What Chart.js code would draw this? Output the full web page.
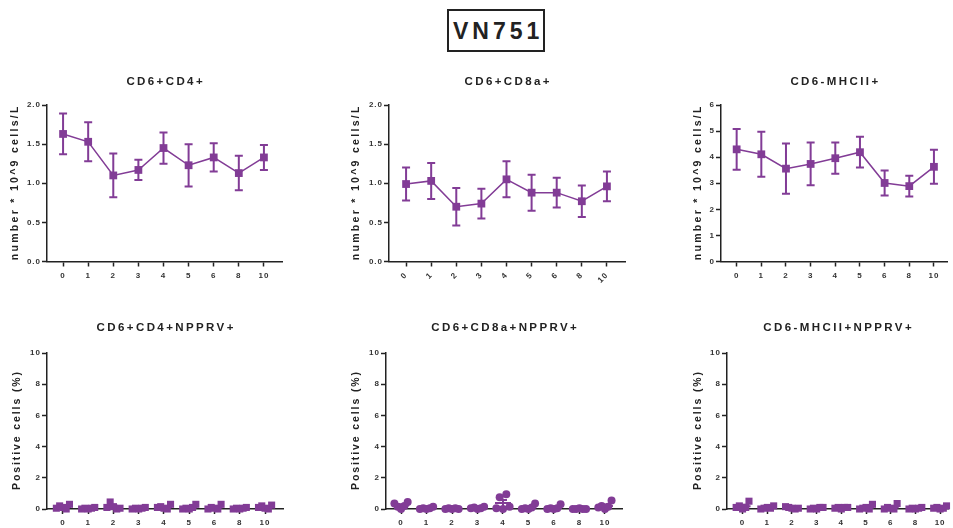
<!DOCTYPE html>
<html>
<head>
<meta charset="utf-8">
<title>VN751</title>
<script src="https://cdn.jsdelivr.net/npm/chart.js@4"></script>
<style>
  body { margin: 0; background: #fff; width: 953px; height: 528px; position: relative; overflow: hidden; }
  #main {
    position: absolute; left: 447px; top: 9px; width: 94px; height: 39px;
    border: 2px solid #222; color: #222; text-align: center;
    font: bold 23px "Liberation Sans", Arial, sans-serif; line-height: 40px; letter-spacing: 4px;
    text-indent: 4px;
  }
  canvas { position: absolute; }
</style>
</head>
<body>
<div id="main">VN751</div>

<script>
// days post infection (x categories)
const days = ['0', '1', '2', '3', '4', '5', '6', '8', '10'];

// top row: mean and error per day
const cd4Mean = [1.63, 1.53, 1.10, 1.17, 1.45, 1.23, 1.33, 1.13, 1.33];
const cd4Err  = [0.26, 0.25, 0.28, 0.13, 0.20, 0.27, 0.18, 0.22, 0.16];
const cd8Mean = [0.99, 1.03, 0.70, 0.74, 1.05, 0.88, 0.88, 0.77, 0.96];
const cd8Err  = [0.21, 0.23, 0.24, 0.19, 0.23, 0.23, 0.19, 0.20, 0.19];
const mhcMean = [4.30, 4.11, 3.56, 3.74, 3.96, 4.19, 3.01, 2.89, 3.63];
const mhcErr  = [0.78, 0.86, 0.96, 0.82, 0.60, 0.59, 0.48, 0.40, 0.65];

// bottom row: individual animals (% positive) per day
const cd4Npprv = [
  [0.05, 0.20, 0.10, 0.00, 0.30], [0.00, 0.05, 0.00, 0.05, 0.10], [0.10, 0.45, 0.15, 0.00, 0.05],
  [0.00, 0.05, 0.00, 0.05, 0.10], [0.10, 0.15, 0.05, 0.00, 0.30], [0.00, 0.05, 0.00, 0.10, 0.30],
  [0.00, 0.10, 0.05, 0.00, 0.30], [0.00, 0.05, 0.00, 0.05, 0.10], [0.10, 0.20, 0.05, 0.00, 0.25]
];
const cd8Npprv = [
  [0.35, 0.15, 0.00, 0.20, 0.45], [0.00, 0.05, 0.00, 0.05, 0.15], [0.00, 0.05, 0.00, 0.05, 0.00],
  [0.05, 0.10, 0.00, 0.05, 0.15], [0.05, 0.75, 0.00, 0.95, 0.15], [0.00, 0.05, 0.00, 0.10, 0.35],
  [0.00, 0.05, 0.00, 0.05, 0.30], [0.00, 0.00, 0.05, 0.00, 0.00], [0.10, 0.20, 0.00, 0.15, 0.55]
];
const mhcNpprv = [
  [0.10, 0.20, 0.00, 0.10, 0.50], [0.00, 0.05, 0.10, 0.05, 0.20], [0.15, 0.10, 0.05, 0.00, 0.05],
  [0.00, 0.05, 0.00, 0.10, 0.10], [0.05, 0.10, 0.00, 0.10, 0.10], [0.00, 0.05, 0.10, 0.00, 0.30],
  [0.00, 0.10, 0.05, 0.00, 0.35], [0.00, 0.05, 0.00, 0.05, 0.10], [0.05, 0.10, 0.00, 0.05, 0.20]
];

const purple = '#823c96';
const ink = '#222';
const FONT = '"Liberation Sans", Arial, sans-serif';

// error bars under the markers (top row)
function errorBars(mean, err) {
  return {
    id: 'errorBars',
    beforeDatasetsDraw(chart) {
      const { ctx, scales: { x, y } } = chart;
      ctx.save();
      ctx.strokeStyle = purple;
      ctx.lineWidth = 2;
      mean.forEach((m, i) => {
        const px = x.getPixelForValue(i);
        const top = y.getPixelForValue(m + err[i]);
        const bot = y.getPixelForValue(m - err[i]);
        ctx.beginPath();
        ctx.moveTo(px, top); ctx.lineTo(px, bot);
        ctx.moveTo(px - 4, top); ctx.lineTo(px + 4, top);
        ctx.moveTo(px - 4, bot); ctx.lineTo(px + 4, bot);
        ctx.stroke();
      });
      ctx.restore();
    }
  };
}

// mean line + SEM over the dots (bottom row)
function meanSem(groups) {
  return {
    id: 'meanSem',
    afterDatasetsDraw(chart) {
      const { ctx, scales: { x, y } } = chart;
      ctx.save();
      ctx.strokeStyle = purple;
      ctx.lineWidth = 2;
      groups.forEach((g, i) => {
        const n = g.length;
        const m = g.reduce((a, b) => a + b, 0) / n;
        const sd = Math.sqrt(g.reduce((a, b) => a + (b - m) ** 2, 0) / (n - 1));
        const sem = sd / Math.sqrt(n);
        const px = x.getPixelForValue(i);
        const pm = y.getPixelForValue(m);
        const top = y.getPixelForValue(m + sem);
        const bot = y.getPixelForValue(Math.max(m - sem, 0));
        ctx.beginPath();
        ctx.moveTo(px - 8, pm); ctx.lineTo(px + 8, pm);
        ctx.moveTo(px, top); ctx.lineTo(px, bot);
        ctx.moveTo(px - 4, top); ctx.lineTo(px + 4, top);
        ctx.stroke();
      });
      ctx.restore();
    }
  };
}

// spaced-out panel title and y axis title
function labels(title, yTitle, p) {
  return {
    id: 'labels',
    beforeUpdate(chart) { chart.ctx.letterSpacing = '1px'; },
    beforeDraw(chart) { chart.ctx.letterSpacing = '1px'; },
    afterDraw(chart) {
      const { ctx, chartArea: a } = chart;
      ctx.save();
      ctx.fillStyle = ink;
      ctx.textAlign = 'center';
      ctx.textBaseline = 'middle';
      ctx.font = 'bold 11.5px ' + FONT;
      ctx.letterSpacing = '2.4px';
      ctx.fillText(title, (a.left + a.right) / 2 + 1.2, a.top - p.titleUp);
      ctx.font = 'bold 10.5px ' + FONT;
      ctx.letterSpacing = p.ySpacing + 'px';
      ctx.translate(a.left - p.yTitleOff, (a.top + a.bottom) / 2);
      ctx.rotate(-Math.PI / 2);
      ctx.fillText(yTitle, 1, 0);
      ctx.restore();
    }
  };
}

function makeChart(p) {
  const cv = document.createElement('canvas');
  cv.width = p.w; cv.height = p.h;
  cv.style.left = p.left + 'px';
  cv.style.top = p.top + 'px';
  document.body.appendChild(cv);

  let datasets, extra;
  if (p.mean) {
    datasets = [{
      data: p.mean.map((v, i) => ({ x: i, y: v })),
      borderColor: purple, borderWidth: 1.5,
      pointStyle: 'rect', pointRadius: 5.5, pointBackgroundColor: purple, pointBorderWidth: 0,
      clip: false
    }];
    extra = errorBars(p.mean, p.err);
  } else {
    const pts = [];
    p.groups.forEach((g, i) => g.forEach((v, j) => pts.push({ x: i + (j - (g.length - 1) / 2) * 0.13, y: v })));
    datasets = [{
      data: pts, showLine: false,
      pointStyle: p.marker, pointRadius: p.marker === 'circle' ? 4 : 5,
      pointBackgroundColor: purple, pointBorderWidth: 0, borderColor: purple,
      clip: false
    }];
    extra = meanSem(p.groups);
  }

  const gridOpts = { display: true, drawOnChartArea: false, drawTicks: true, tickLength: 5, tickWidth: 1.5, color: ink };
  const tickFont = { family: FONT, size: 8, weight: 'bold' };

  new Chart(cv, {
    type: 'line',
    data: { datasets },
    options: {
      responsive: false,
      animation: false,
      layout: { padding: { top: p.areaTop, right: p.w - p.right, bottom: 0, left: 0 } },
      plugins: { legend: { display: false }, tooltip: { enabled: false } },
      scales: {
        x: {
          type: 'linear', min: p.xMin, max: p.xMax,
          grid: gridOpts,
          border: { display: true, width: 1.5, color: ink },
          afterBuildTicks: s => { s.ticks = days.map((_, i) => ({ value: i })); },
          afterFit: s => { s.height = p.h - p.areaBottom; },
          ticks: {
            callback: v => days[v], font: tickFont, color: '#333', padding: 4,
            autoSkip: false, minRotation: p.rot || 0, maxRotation: p.rot || 0
          }
        },
        y: {
          min: 0, max: p.yMax,
          grid: gridOpts,
          border: { display: true, width: 1.5, color: ink },
          afterFit: s => { s.width = p.axis; },
          ticks: {
            stepSize: p.yStep, font: tickFont, color: '#333', padding: 1,
            callback: v => p.yDec ? v.toFixed(p.yDec) : v
          }
        }
      }
    },
    plugins: [extra, labels(p.title, p.yTitle, p)]
  });
}

const cellsTitle = 'number * 10^9 cells/L';
const posTitle = 'Positive cells (%)';

const panels = [
  { title: 'CD6+CD4+', yTitle: cellsTitle, mean: cd4Mean, err: cd4Err, yMax: 2, yStep: 0.5, yDec: 1,
    left: 0, top: 60, w: 318, h: 240, axis: 47, right: 282, xMin: -0.64, xMax: 8.72,
    areaTop: 45, areaBottom: 201.5, titleUp: 23, yTitleOff: 32, ySpacing: 2.3 },
  { title: 'CD6+CD8a+', yTitle: cellsTitle, mean: cd8Mean, err: cd8Err, yMax: 2, yStep: 0.5, yDec: 1, rot: 45,
    left: 318, top: 60, w: 318, h: 240, axis: 71, right: 307, xMin: -0.68, xMax: 8.72,
    areaTop: 45, areaBottom: 201.5, titleUp: 23, yTitleOff: 33, ySpacing: 2.3 },
  { title: 'CD6-MHCII+', yTitle: cellsTitle, mean: mhcMean, err: mhcErr, yMax: 6, yStep: 1,
    left: 636, top: 60, w: 317, h: 240, axis: 85, right: 317, xMin: -0.635, xMax: 8.55,
    areaTop: 45, areaBottom: 201.5, titleUp: 23, yTitleOff: 23, ySpacing: 2.3 },
  { title: 'CD6+CD4+NPPRV+', yTitle: posTitle, groups: cd4Npprv, marker: 'rect', yMax: 10, yStep: 2,
    left: 0, top: 300, w: 318, h: 228, axis: 47, right: 283, xMin: -0.63, xMax: 8.71,
    areaTop: 53, areaBottom: 209, titleUp: 25, yTitleOff: 30, ySpacing: 1.9 },
  { title: 'CD6+CD8a+NPPRV+', yTitle: posTitle, groups: cd8Npprv, marker: 'circle', yMax: 10, yStep: 2,
    left: 318, top: 300, w: 318, h: 228, axis: 68, right: 304, xMin: -0.59, xMax: 8.67,
    areaTop: 53, areaBottom: 209, titleUp: 25, yTitleOff: 30, ySpacing: 1.9 },
  { title: 'CD6-MHCII+NPPRV+', yTitle: posTitle, groups: mhcNpprv, marker: 'rect', yMax: 10, yStep: 2,
    left: 636, top: 300, w: 317, h: 228, axis: 91, right: 317, xMin: -0.63, xMax: 8.32,
    areaTop: 53, areaBottom: 209, titleUp: 25, yTitleOff: 29, ySpacing: 1.9 }
];

panels.forEach(makeChart);
</script>
</body>
</html>
